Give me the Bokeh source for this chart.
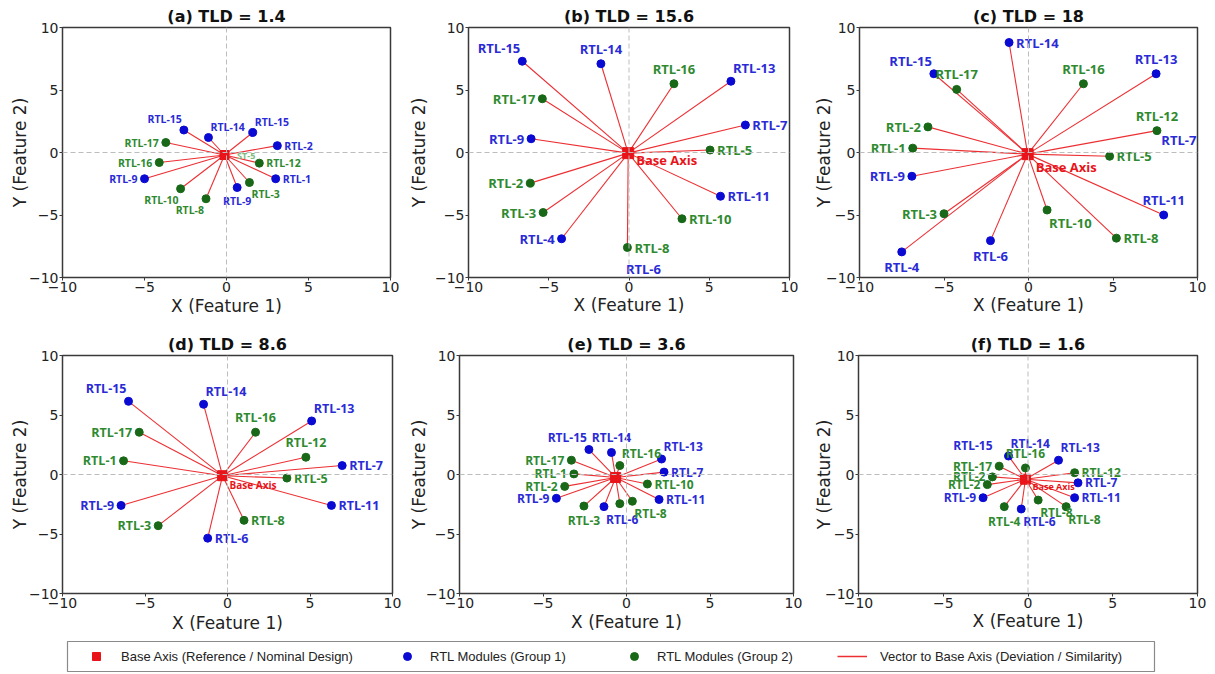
from bokeh.plotting import figure
from bokeh.models import Range1d, FixedTicker, Span, ColumnDataSource, Legend, LegendItem
from bokeh.layouts import column, row
from bokeh.core.properties import value
from bokeh.embed import file_html
from bokeh.resources import INLINE

# ---------------- data ----------------
PANEL_LETTERS = ["a", "b", "c", "d", "e", "f"]
TLD = ["1.4", "15.6", "18", "8.6", "3.6", "1.6"]
TICKS = [-10, -5, 0, 5, 10]
X_LABEL = "X (Feature 1)"
Y_LABEL = "Y (Feature 2)"

a_names = ["RTL-15", "RTL-14", "RTL-15", "RTL-2", "RTL-17", "RTL-16", "RTL-9", "RTL-10", "RTL-8", "RTL-9", "RTL-3", "RTL-12", "RTL-1"]
a_x = [-2.6, -1.1, 1.6, 3.1, -3.7, -4.1, -5.0, -2.8, -1.25, 0.65, 1.4, 2.0, 3.0]
a_y = [1.8, 1.2, 1.6, 0.55, 0.8, -0.8, -2.1, -2.9, -3.7, -2.8, -2.4, -0.85, -2.1]
a_grp = [1, 1, 1, 1, 2, 2, 1, 2, 2, 1, 2, 2, 1]
a_pos = ["TL", "TR", "TR", "R", "L", "L", "L", "BL", "BL", "B", "BR", "R", "R"]
a_base = [-0.12, -0.2]
a_note = ["ST-5"]
a_note_x = [1.2]
a_note_y = [-0.25]
a_note_grp = [3]

b_names = ["RTL-15", "RTL-14", "RTL-16", "RTL-13", "RTL-17", "RTL-7", "RTL-9", "RTL-5", "RTL-2", "RTL-11", "RTL-3", "RTL-10", "RTL-4", "RTL-8"]
b_x = [-6.65, -1.75, 2.8, 6.35, -5.4, 7.25, -6.1, 5.05, -6.15, 5.7, -5.35, 3.3, -4.2, -0.1]
b_y = [7.3, 7.1, 5.5, 5.7, 4.3, 2.2, 1.1, 0.2, -2.45, -3.5, -4.8, -5.3, -6.9, -7.6]
b_grp = [1, 1, 2, 1, 2, 1, 1, 2, 2, 1, 2, 2, 1, 2]
b_pos = ["TL", "T", "T", "TR", "L", "R", "L", "R", "L", "R", "L", "R", "L", "R"]
b_base = [-0.05, -0.05]
b_note = ["RTL-6"]
b_note_x = [0.9]
b_note_y = [-9.3]
b_note_grp = [1]

c_names = ["RTL-14", "RTL-15", "RTL-17", "RTL-16", "RTL-13", "RTL-2", "RTL-12", "RTL-1", "RTL-5", "RTL-9", "RTL-11", "RTL-10", "RTL-3", "RTL-6", "RTL-8", "RTL-4"]
c_x = [-1.15, -5.6, -4.25, 3.25, 7.55, -5.95, 7.6, -6.85, 4.8, -6.9, 8.0, 1.1, -5.0, -2.25, 5.2, -7.5]
c_y = [8.8, 6.3, 5.05, 5.5, 6.3, 2.05, 1.75, 0.35, -0.3, -1.9, -5.0, -4.6, -4.9, -7.05, -6.85, -7.95]
c_grp = [1, 1, 2, 2, 1, 2, 2, 2, 2, 1, 1, 2, 2, 1, 2, 1]
c_pos = ["R", "TL", "T", "T", "T", "L", "T", "L", "R", "L", "T", "BR", "L", "B", "R", "B"]
c_base = [-0.05, -0.13]
c_note = ["RTL-7"]
c_note_x = [8.9]
c_note_y = [1.0]
c_note_grp = [1]

d_names = ["RTL-15", "RTL-14", "RTL-13", "RTL-16", "RTL-17", "RTL-12", "RTL-7", "RTL-1", "RTL-5", "RTL-11", "RTL-9", "RTL-3", "RTL-8", "RTL-6"]
d_x = [-6.0, -1.45, 5.1, 1.7, -5.35, 4.75, 6.95, -6.3, 3.6, 6.3, -6.45, -4.2, 1.0, -1.2]
d_y = [6.15, 5.9, 4.5, 3.55, 3.55, 1.45, 0.75, 1.15, -0.3, -2.6, -2.6, -4.3, -3.85, -5.35]
d_grp = [1, 1, 1, 2, 2, 2, 1, 2, 2, 1, 1, 2, 2, 1]
d_pos = ["TL", "TR", "TR", "T", "L", "T", "R", "L", "R", "R", "L", "L", "R", "R"]
d_base = [-0.3, -0.1]
d_note = []
d_note_x = []
d_note_y = []
d_note_grp = []

e_names = ["RTL-15", "RTL-14", "RTL-16", "RTL-13", "RTL-17", "RTL-1", "RTL-7", "RTL-2", "RTL-10", "RTL-9", "RTL-11", "RTL-3", "RTL-6", "", "RTL-8"]
e_x = [-2.25, -0.9, -0.4, 2.1, -3.3, -3.15, 2.25, -3.7, 1.25, -4.2, 1.95, -2.55, -1.35, -0.4, 0.35]
e_y = [2.1, 1.85, 0.75, 1.3, 1.2, 0.05, 0.2, -1.0, -0.8, -2.0, -2.1, -2.65, -2.7, -2.45, -2.25]
e_grp = [1, 1, 2, 1, 2, 2, 1, 2, 2, 1, 1, 2, 1, 2, 2]
e_pos = ["TL", "T", "TR", "TR", "L", "L", "R", "L", "R", "L", "R", "B", "BR", "B", "BR"]
e_base = [-0.65, -0.25]
e_note = []
e_note_x = []
e_note_y = []
e_note_grp = []

f_names = ["RTL-14", "RTL-13", "RTL-16", "RTL-17", "RTL-12", "RTL-2", "RTL-2", "RTL-7", "RTL-9", "RTL-11", "RTL-4", "RTL-6", "RTL-8", "RTL-8"]
f_x = [-1.15, 1.8, -0.15, -1.7, 2.75, -2.1, -2.4, 2.95, -2.65, 2.75, -1.4, -0.4, 0.6, 2.25]
f_y = [1.55, 1.2, 0.55, 0.7, 0.15, -0.2, -0.85, -0.7, -1.95, -1.95, -2.7, -2.9, -2.15, -2.7]
f_grp = [1, 1, 2, 2, 2, 2, 2, 1, 1, 1, 2, 1, 2, 2]
f_pos = ["TR", "TR", "T", "L", "R", "L", "L", "R", "L", "R", "B", "BR", "BR", "BR"]
f_base = [-0.15, -0.4]
f_note = ["RTL-15"]
f_note_x = [-3.25]
f_note_y = [2.45]
f_note_grp = [1]

BASE_LABELS = ["", "Base Axis", "Base Axis", "Base Axis", "", "Base Axis"]
LEGEND_LABELS = ["Base Axis (Reference / Nominal Design)", "RTL Modules (Group 1)",
                 "RTL Modules (Group 2)", "Vector to Base Axis (Deviation / Similarity)"]

# ---------------- styling ----------------
RED = "#e8141a"
LINE_RED = "#ec2f33"
DOT = {1: "#0a0ad2", 2: "#186818", 3: "#7dbb7d"}
TXT = {1: "#2b2bd6", 2: "#2f8a2f", 3: "#7dbb7d"}

PLACE = {
    "R": ("left", "middle", 7, 0),
    "L": ("right", "middle", -7, 0),
    "T": ("center", "bottom", 0, -6),
    "B": ("center", "top", 0, 6),
    "TL": ("right", "bottom", -2, -4),
    "TR": ("left", "bottom", 2, -4),
    "BL": ("right", "top", -2, 4),
    "BR": ("left", "top", 2, 4),
}

# per panel layout
LAYOUT = [
    dict(h=320, bl=62, br=15, bt=27, bb=43, ys=-4, xs=1, toff=-15, lab=10.5, bsz=9, bfs=0, box=(0, 0)),
    dict(h=320, bl=50, br=21, bt=27, bb=41, ys=3, xs=0, toff=0, lab=13, bsz=11, bfs=13, box=(8, 7)),
    dict(h=320, bl=42, br=18, bt=27, bb=38, ys=-11, xs=0, toff=-9, lab=13, bsz=11, bfs=13, box=(8, 13)),
    dict(h=318, bl=62, br=13, bt=33, bb=45, ys=-4, xs=2, toff=-5, lab=12.5, bsz=10, bfs=10, box=(7, 9)),
    dict(h=318, bl=47, br=17, bt=35, bb=43, ys=-6, xs=1, toff=0, lab=12, bsz=10, bfs=0, box=(0, 0)),
    dict(h=318, bl=43, br=18, bt=35, bb=42, ys=-12, xs=0, toff=-7, lab=12, bsz=10, bfs=9, box=(7, 7)),
]

PANELS = [
    (a_names, a_x, a_y, a_grp, a_pos, a_base, a_note, a_note_x, a_note_y, a_note_grp),
    (b_names, b_x, b_y, b_grp, b_pos, b_base, b_note, b_note_x, b_note_y, b_note_grp),
    (c_names, c_x, c_y, c_grp, c_pos, c_base, c_note, c_note_x, c_note_y, c_note_grp),
    (d_names, d_x, d_y, d_grp, d_pos, d_base, d_note, d_note_x, d_note_y, d_note_grp),
    (e_names, e_x, e_y, e_grp, e_pos, e_base, e_note, e_note_x, e_note_y, e_note_grp),
    (f_names, f_x, f_y, f_grp, f_pos, f_base, f_note, f_note_x, f_note_y, f_note_grp),
]


def make_panel(i):
    names, xs, ys, grp, pos, base, note, nx, ny, ng = PANELS[i]
    L = LAYOUT[i]
    p = figure(width=405, height=L["h"], x_range=Range1d(-10, 10), y_range=Range1d(-10, 10),
               toolbar_location=None, output_backend="svg",
               min_border_left=L["bl"], min_border_right=L["br"],
               min_border_top=L["bt"], min_border_bottom=L["bb"])
    p.title.text = "(%s) TLD = %s" % (PANEL_LETTERS[i], TLD[i])
    p.title.align = "center"
    p.title.offset = L["toff"]
    p.title.text_font = "DejaVu Sans"
    p.title.text_font_size = "16px"
    p.title.text_font_style = "bold"
    p.title.text_color = "#111111"
    p.title.standoff = 4
    p.grid.visible = False
    p.outline_line_color = "#3a3a3a"
    p.outline_line_width = 1.5
    p.background_fill_color = "white"
    for ax in (p.xaxis[0], p.yaxis[0]):
        ax.ticker = FixedTicker(ticks=TICKS)
        ax.axis_line_color = None
        ax.major_tick_line_color = "#3a3a3a"
        ax.major_tick_out = 3
        ax.major_tick_in = 0
        ax.minor_tick_line_color = None
        ax.major_label_standoff = 1
        ax.major_label_text_font = "DejaVu Sans"
        ax.major_label_text_font_size = "14px"
        ax.major_label_text_color = "#222222"
        ax.axis_label_text_font = "DejaVu Sans"
        ax.axis_label_text_font_size = "17px"
        ax.axis_label_text_font_style = "normal"
        ax.axis_label_text_color = "#222222"
    p.xaxis.axis_label = X_LABEL
    p.yaxis.axis_label = Y_LABEL
    p.xaxis.axis_label_standoff = L["xs"]
    p.yaxis.axis_label_standoff = L["ys"]

    p.add_layout(Span(location=0, dimension="height", line_color="#bdbdbd", line_dash="5 3", line_width=1))
    p.add_layout(Span(location=0, dimension="width", line_color="#bdbdbd", line_dash="5 3", line_width=1))

    src = ColumnDataSource(dict(x=xs, y=ys, name=names,
                                dot=[DOT[g] for g in grp], tc=[TXT[g] for g in grp],
                                bx=[base[0]] * len(xs), by=[base[1]] * len(xs)))
    p.segment(x0="bx", y0="by", x1="x", y1="y", source=src, line_color=LINE_RED, line_width=1.1)
    p.scatter(x="x", y="y", source=src, size=8, fill_color="dot", line_color="dot", marker="circle")
    p.scatter(x=[base[0]], y=[base[1]], size=L["bsz"], marker="square", fill_color=RED, line_color=RED)

    for code, (al, bl, dx, dy) in PLACE.items():
        idx = [k for k, c in enumerate(pos) if c == code]
        if not idx:
            continue
        s = ColumnDataSource(dict(x=[xs[k] for k in idx], y=[ys[k] for k in idx],
                                  t=[names[k] for k in idx], c=[TXT[grp[k]] for k in idx]))
        p.text(x="x", y="y", text="t", source=s, text_color="c", text_align=al, text_baseline=bl,
               x_offset=dx, y_offset=dy, text_font=value("Open Sans"), text_font_style="bold",
               text_font_size="%spx" % L["lab"])
    if note:
        s = ColumnDataSource(dict(x=nx, y=ny, t=note, c=[TXT[g] for g in ng]))
        fs = L["lab"] if ng[0] != 3 else 9
        p.text(x="x", y="y", text="t", source=s, text_color="c", text_align="center",
               text_baseline="middle", text_font=value("Open Sans"), text_font_style="bold",
               text_font_size="%spx" % fs)
    if BASE_LABELS[i]:
        p.text(x=[base[0]], y=[base[1]], text=[BASE_LABELS[i]], text_color=RED, text_align="left",
               text_baseline="middle", x_offset=L["box"][0], y_offset=L["box"][1],
               text_font=value("Open Sans"), text_font_style="bold", text_font_size="%spx" % L["bfs"])
    return p


panels = [make_panel(i) for i in range(6)]

# ---------------- legend row ----------------
lf = figure(width=1215, height=36, x_range=Range1d(0, 1), y_range=Range1d(0, 1),
            toolbar_location=None, output_backend="svg", x_axis_location=None, y_axis_location=None,
            min_border_left=67, min_border_right=61, min_border_top=3, min_border_bottom=3)
lf.grid.visible = False
lf.outline_line_color = "#8a8a8a"
lf.outline_line_width = 1.2
# legend proxies (kept outside the visible range so only the legend glyphs show)
r_base = lf.scatter(x=[5], y=[5], marker="square", size=10, fill_color=RED, line_color=RED)
r_g1 = lf.scatter(x=[5], y=[5], marker="circle", size=9, fill_color=DOT[1], line_color=DOT[1])
r_g2 = lf.scatter(x=[5], y=[5], marker="circle", size=9, fill_color=DOT[2], line_color=DOT[2])
r_vec = lf.line(x=[5, 6], y=[5, 5], line_color=LINE_RED, line_width=1.5)
for rend, lab, xloc, so in [(r_base, LEGEND_LABELS[0], 14, 10), (r_g1, LEGEND_LABELS[1], 325, 8),
                            (r_g2, LEGEND_LABELS[2], 552, 8), (r_vec, LEGEND_LABELS[3], 770, 13)]:
    lg = Legend(items=[LegendItem(label=lab, renderers=[rend])], location=(xloc, 5),
                orientation="horizontal", padding=0, margin=0, border_line_color=None,
                background_fill_alpha=0, label_text_font="Liberation Sans", label_text_font_size="13px",
                label_text_color="#222222", glyph_width=30, glyph_height=20, label_height=20,
                label_standoff=so)
    lf.add_layout(lg)

layout = column(row(panels[0], panels[1], panels[2]), row(panels[3], panels[4], panels[5]), lf)
open("out.html", "w").write(file_html(layout, INLINE))
